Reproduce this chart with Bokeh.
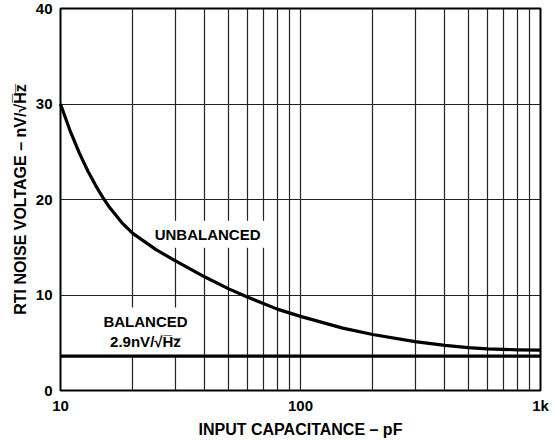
from bokeh.plotting import figure
from bokeh.models import FixedTicker, Label, Range1d
from bokeh.embed import file_html
from bokeh.resources import INLINE

# ---- data ----
cap_pf = [10, 11, 12, 13, 14, 15, 16, 18, 20, 25, 30, 40, 50, 60, 70, 80, 100,
          150, 200, 300, 400, 500, 600, 800, 1000]
unbalanced_nv = [30, 27.1, 24.83, 22.99, 21.48, 20.22, 19.18, 17.59, 16.45, 14.75, 13.6, 11.88,
                 10.67, 9.8, 9.1, 8.52, 7.76, 6.53, 5.86, 5.12, 4.72, 4.49, 4.36, 4.26, 4.23]
balanced_cap = [10, 1000]
balanced_nv = [3.6, 3.6]

x_ticks = [10, 100, 1000]
x_tick_labels = {10: "10", 100: "100", 1000: "1k"}
y_ticks = [0, 10, 20, 30, 40]
x_grid = [20, 30, 40, 50, 60, 70, 80, 90, 100, 200, 300, 400, 500, 600, 700, 800, 900]
y_grid = [10, 20, 30]

FONT = "Liberation Sans"

p = figure(width=556, height=440, x_axis_type="log",
           x_range=Range1d(10, 1000), y_range=Range1d(0, 40),
           output_backend="svg", toolbar_location=None,
           min_border_left=60, min_border_right=16, min_border_top=8, min_border_bottom=48)

p.background_fill_color = "white"
p.border_fill_color = "white"
p.outline_line_color = "black"
p.outline_line_width = 2

for ax in (p.xaxis[0], p.yaxis[0]):
    ax.axis_line_color = None
    ax.major_tick_line_color = None
    ax.minor_tick_line_color = None
    ax.major_tick_out = 0
    ax.minor_tick_out = 0
    ax.major_tick_in = 0
    ax.minor_tick_in = 0
    ax.major_label_text_font = FONT
    ax.major_label_text_font_style = "bold"
    ax.major_label_text_font_size = "15px"
    ax.major_label_text_color = "black"
    ax.axis_label_text_font = FONT
    ax.axis_label_text_font_style = "bold"
    ax.axis_label_text_font_size = "16px"
    ax.axis_label_text_color = "black"

p.xaxis.ticker = FixedTicker(ticks=x_ticks)
p.xaxis.major_label_overrides = x_tick_labels
p.xaxis.major_label_standoff = 6
p.xaxis.axis_label = "INPUT CAPACITANCE \u2013 pF"
p.xaxis.axis_label_standoff = 4

p.yaxis.ticker = FixedTicker(ticks=y_ticks)
p.yaxis.major_label_standoff = 8
p.yaxis.axis_label = "RTI NOISE VOLTAGE \u2013 nV/\u221aH\u0305z\u0305"
p.yaxis.axis_label_standoff = 4

p.xgrid.ticker = FixedTicker(ticks=x_grid)
p.ygrid.ticker = FixedTicker(ticks=y_grid)
p.grid.grid_line_color = "#222222"
p.grid.grid_line_width = 1.2
p.grid.grid_line_alpha = 1

p.add_layout(Label(x=41, y=16.35, text="UNBALANCED", text_align="center", text_baseline="middle",
                   text_font=FONT, text_font_style="bold", text_font_size="15px", text_color="black",
                   background_fill_color="white", padding=5))
p.add_layout(Label(x=22.6, y=6.2, text="BALANCED\n2.9nV/\u221aH\u0305z\u0305", text_align="center",
                   text_baseline="middle",
                   text_font=FONT, text_font_style="bold", text_font_size="15px", text_color="black",
                   background_fill_color="white", padding=5))

p.line(cap_pf, unbalanced_nv, line_color="black", line_width=3.2, line_join="round", level="overlay")
p.line(balanced_cap, balanced_nv, line_color="black", line_width=3.2, level="overlay")

open("out.html", "w").write(file_html(p, INLINE))
